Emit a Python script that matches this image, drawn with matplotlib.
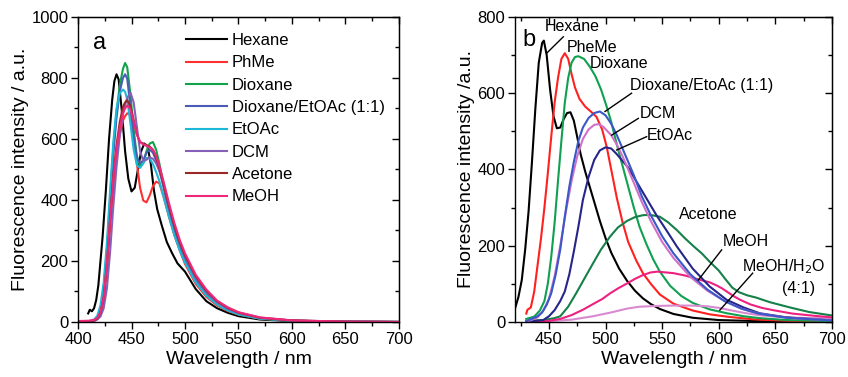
import numpy as np
import matplotlib
matplotlib.use("Agg")
import matplotlib.pyplot as plt
from matplotlib.ticker import MultipleLocator

plt.rcParams['font.family'] = ['Liberation Sans', 'DejaVu Sans']

# ---------------- panel a : data ----------------
hex_a_x = [409.5, 411, 413, 415, 417, 419, 421, 423, 426, 429, 432, 434, 436, 438, 441, 444, 447, 450,
           453, 456, 459, 462, 465, 468, 471, 474, 478, 483, 488, 493, 500, 510, 520, 530, 540, 550, 570, 600, 650, 700]
hex_a_y = [28, 40, 35, 45, 72, 120, 200, 280, 430, 600, 730, 790, 812, 795, 690, 560, 470, 428,
           440, 500, 560, 585, 575, 520, 430, 370, 320, 262, 225, 192, 165, 108, 68, 45, 30, 19, 8, 3, 1, 0]

grid_a = [400, 410, 415, 418, 421, 424, 427, 430, 433, 436, 439, 442, 444, 446, 449, 452, 455, 458, 461,
          464, 467, 470, 473, 476, 480, 485, 490, 495, 500, 510, 520, 530, 540, 550, 570, 600, 650, 700]
phme_a = [0, 1, 4, 9, 25, 70, 170, 310, 440, 545, 615, 660, 675, 684, 680, 620, 520, 440, 398,
          392, 415, 445, 460, 455, 410, 345, 285, 235, 190, 125, 82, 54, 36, 24, 11, 4, 1, 0]
diox_a = [0, 2, 6, 14, 40, 110, 240, 410, 570, 690, 775, 830, 849, 835, 745, 630, 545, 510, 522,
          560, 585, 590, 565, 520, 450, 370, 305, 250, 205, 135, 88, 58, 38, 25, 11, 4, 1, 0]
dxea_a = [0, 2, 5, 12, 36, 95, 220, 390, 550, 670, 755, 800, 812, 798, 705, 605, 538, 520, 530,
          555, 565, 555, 530, 500, 440, 365, 300, 248, 205, 138, 92, 60, 40, 27, 12, 4, 1, 0]
etoac_a = [0, 2, 8, 20, 55, 130, 260, 430, 590, 700, 750, 762, 755, 730, 650, 565, 515, 505, 520,
           538, 536, 518, 492, 462, 410, 345, 285, 235, 195, 130, 86, 57, 38, 25, 11, 4, 1, 0]
dcm_a = [0, 1, 3, 8, 18, 45, 110, 230, 380, 510, 610, 680, 712, 735, 752, 720, 640, 560, 528,
         532, 540, 535, 520, 495, 450, 380, 315, 260, 215, 145, 97, 64, 43, 29, 13, 5, 1, 0]
acet_a = [0, 2, 5, 11, 30, 80, 190, 340, 480, 580, 655, 705, 720, 727, 708, 662, 615, 590, 585,
          580, 575, 565, 540, 505, 450, 380, 315, 262, 218, 150, 102, 68, 46, 31, 14, 5, 1, 0]
meoh_a = [3, 4, 7, 13, 32, 80, 190, 335, 470, 565, 635, 685, 700, 710, 698, 657, 615, 590, 582,
          578, 572, 565, 545, 512, 460, 390, 325, 270, 225, 155, 106, 70, 48, 32, 15, 5, 1, 0]

labels_a = ['Hexane', 'PhMe', 'Dioxane', 'Dioxane/EtOAc (1:1)', 'EtOAc', 'DCM', 'Acetone', 'MeOH']
colors_a = ['#000000', '#ff3030', '#12a24a', '#4a5cb6', '#1cb8d8', '#8660b6', '#9a2828', '#f0287c']

# ---------------- panel b ----------------
hex_b_x = [420, 423, 426, 429, 432, 435, 438, 441, 444, 445.5, 448, 451, 454, 457, 460, 463, 466, 469,
           472, 475, 478, 482, 486, 490, 495, 500, 505, 512, 519, 526, 533, 540, 548, 560, 577, 600, 650, 700]
hex_b_y = [35, 65, 110, 190, 290, 420, 560, 680, 732, 738, 700, 610, 540, 508, 510, 532, 548, 550,
           528, 485, 440, 395, 355, 315, 265, 220, 182, 140, 108, 82, 62, 47, 34, 21, 11, 5, 1, 0]

phme_b_x = [430, 431, 434, 437, 440, 443, 446, 449, 452, 455, 458, 461, 464, 467, 470, 473, 477, 482,
            487, 492, 497, 501, 505, 510, 515, 520, 527, 533, 540, 548, 560, 577, 592, 607, 630, 660, 700]
phme_b_y = [22, 32, 38, 80, 150, 220, 300, 390, 485, 575, 640, 690, 705, 690, 650, 615, 585, 565,
            552, 538, 505, 460, 400, 325, 262, 210, 162, 128, 100, 72, 48, 30, 20, 14, 7, 3, 1]

diox_b_x = [430, 437, 442, 446, 449, 452, 455, 458, 461, 464, 467, 470, 473, 476, 481, 486, 491, 496,
            501, 505, 510, 515, 520, 525, 530, 536, 542, 548, 557, 567, 577, 592, 607, 622, 636, 660, 700]
diox_b_y = [8, 14, 30, 55, 100, 170, 260, 370, 475, 575, 640, 680, 695, 697, 690, 670, 645, 610,
            565, 525, 465, 410, 355, 300, 250, 205, 165, 132, 95, 68, 50, 33, 23, 15, 10, 5, 2]

dxea_b_x = [430, 440, 444, 448, 452, 456, 460, 464, 468, 472, 476, 480, 485, 490, 495, 500, 505, 510,
            515, 520, 525, 532, 540, 550, 560, 575, 590, 605, 620, 635, 660, 700]
dxea_b_y = [2, 15, 25, 45, 75, 125, 190, 276, 355, 420, 475, 510, 535, 548, 552, 542, 520, 490,
            455, 420, 385, 330, 280, 225, 180, 125, 85, 55, 35, 22, 11, 4]

dcm_b_x = [430, 440, 445, 450, 455, 460, 465, 470, 475, 480, 485, 490, 494, 498, 505, 510, 515, 520,
           525, 532, 540, 550, 560, 575, 590, 605, 620, 635, 660, 700]
dcm_b_y = [0, 12, 30, 60, 120, 200, 290, 370, 435, 480, 505, 517, 519, 512, 490, 465, 435, 400,
           365, 315, 265, 210, 168, 118, 82, 55, 35, 22, 11, 4]

etoac_b_x = [430, 445, 450, 455, 460, 464, 468, 472, 476, 480, 485, 490, 495, 500, 505, 510, 520, 530,
             537, 545, 555, 563, 577, 592, 607, 622, 636, 660, 700]
etoac_b_y = [0, 5, 15, 31, 55, 80, 125, 185, 250, 320, 380, 425, 450, 458, 455, 440, 405, 355,
             320, 280, 235, 198, 140, 93, 58, 38, 23, 12, 4]

acet_b_x = [430, 445, 455, 460, 467, 474, 481, 489, 496, 504, 511, 519, 526, 533, 539, 548, 555, 563,
            570, 578, 585, 592, 600, 606, 612, 618, 625, 633, 645, 663, 680, 700]
acet_b_y = [3, 5, 10, 15, 40, 75, 112, 154, 190, 224, 248, 265, 275, 280, 281, 276, 262, 241,
            220, 198, 180, 158, 135, 112, 90, 78, 70, 64, 52, 38, 26, 17]

meoh_b_x = [430, 450, 460, 470, 480, 489, 497, 504, 511, 519, 526, 533, 540, 546, 553, 560, 570, 577,
            584, 592, 598, 603, 607, 613, 619, 628, 638, 648, 665, 685, 700]
meoh_b_y = [0, 3, 8, 18, 32, 47, 60, 75, 88, 101, 113, 123, 130, 132, 130, 128, 122, 116,
            110, 104, 96, 88, 80, 68, 58, 46, 37, 31, 22, 16, 12]

mw_b_x = [430, 450, 470, 489, 505, 519, 530, 545, 560, 575, 590, 600, 610, 622, 635, 650, 670, 700]
mw_b_y = [0, 2, 6, 15, 25, 35, 40, 42, 43, 43, 41, 37, 31, 24, 18, 14, 11, 9]

colors_b = {'hex': '#000000', 'phme': '#ff2020', 'diox': '#10a050', 'dxea': '#3a58c8',
            'dcm': '#d070c8', 'etoac': '#25258a', 'acet': '#158048', 'meoh': '#ee2080', 'mw': '#d88ad0'}

# ---------------- figure ----------------
fig = plt.figure(figsize=(8.48, 3.77), dpi=100)
ax1 = fig.add_axes([0.092, 0.146, 0.3785, 0.809])
ax2 = fig.add_axes([0.6073, 0.146, 0.3737, 0.809])

lw = 1.5
series_a = [(hex_a_x, hex_a_y), (grid_a, phme_a), (grid_a, diox_a), (grid_a, dxea_a),
            (grid_a, etoac_a), (grid_a, dcm_a), (grid_a, acet_a), (grid_a, meoh_a)]
for (x, y), lab, c in zip(series_a, labels_a, colors_a):
    ax1.plot(x, y, color=c, lw=lw, label=lab)

ax1.set_xlim(400, 700)
ax1.set_ylim(0, 1000)
ax1.text(414, 915, 'a', fontsize=17, va='center')
leg = ax1.legend(loc='upper left', bbox_to_anchor=(0.315, 0.969), frameon=False, fontsize=12,
                 handlelength=2.5, handletextpad=0.28, labelspacing=0.44, borderaxespad=0)

ax2.plot(hex_b_x, hex_b_y, color=colors_b['hex'], lw=lw)
ax2.plot(phme_b_x, phme_b_y, color=colors_b['phme'], lw=lw)
ax2.plot(diox_b_x, diox_b_y, color=colors_b['diox'], lw=lw)
ax2.plot(acet_b_x, acet_b_y, color=colors_b['acet'], lw=lw)
ax2.plot(mw_b_x, mw_b_y, color=colors_b['mw'], lw=lw)
ax2.plot(meoh_b_x, meoh_b_y, color=colors_b['meoh'], lw=lw)
ax2.plot(etoac_b_x, etoac_b_y, color=colors_b['etoac'], lw=lw)
ax2.plot(dcm_b_x, dcm_b_y, color=colors_b['dcm'], lw=lw)
ax2.plot(dxea_b_x, dxea_b_y, color=colors_b['dxea'], lw=lw)

ax2.set_xlim(420, 700)
ax2.set_ylim(0, 800)
ax2.text(427, 740, 'b', fontsize=17, va='center')

fs = 11.5
ax2.text(446.5, 774, 'Hexane', fontsize=fs, va='center')
ax2.text(466, 721, 'PheMe', fontsize=fs, va='center')
ax2.text(486.3, 679, 'Dioxane', fontsize=fs, va='center')
ax2.text(521.6, 619, 'Dioxane/EtoAc (1:1)', fontsize=fs, va='center')
ax2.text(530.4, 548, 'DCM', fontsize=fs, va='center')
ax2.text(536.6, 490, 'EtOAc', fontsize=fs, va='center')
ax2.text(565, 281, 'Acetone', fontsize=fs, va='center')
ax2.text(603.7, 210, 'MeOH', fontsize=fs, va='center')
ax2.text(620.5, 144, 'MeOH/H$_2$O', fontsize=fs, va='center')
ax2.text(655.9, 89, '(4:1)', fontsize=fs, va='center')

# leader lines
leaders = [((448, 705), (462.7, 748)), ((499.5, 552), (523, 600)), ((505.4, 490), (529, 534)),
           ((509.8, 451), (536.3, 486)), ((582, 110), (602.6, 189)), ((601, 31), (630, 128))]
for p0, p1 in leaders:
    ax2.plot([p0[0], p1[0]], [p0[1], p1[1]], color='k', lw=1.0)

for ax in (ax1, ax2):
    ax.xaxis.set_major_locator(MultipleLocator(50))
    ax.xaxis.set_minor_locator(MultipleLocator(25))
    ax.yaxis.set_major_locator(MultipleLocator(200))
    ax.yaxis.set_minor_locator(MultipleLocator(100))
    ax.tick_params(which='both', direction='out', top=False, right=False, labelsize=12, width=1.0)
    ax.tick_params(which='major', length=5, pad=2)
    ax.tick_params(which='minor', length=3)
    sec = ax.secondary_xaxis('top')
    sec.xaxis.set_major_locator(MultipleLocator(50))
    sec.xaxis.set_minor_locator(MultipleLocator(25))
    sec.tick_params(which='both', direction='in', labeltop=False, width=1.0)
    sec.tick_params(which='major', length=5)
    sec.tick_params(which='minor', length=3)
    secy = ax.secondary_yaxis('right')
    secy.yaxis.set_major_locator(MultipleLocator(200))
    secy.yaxis.set_minor_locator(MultipleLocator(100))
    secy.tick_params(which='both', direction='in', labelright=False, width=1.0)
    secy.tick_params(which='major', length=5)
    secy.tick_params(which='minor', length=3)
    for s in ax.spines.values():
        s.set_linewidth(1.0)
    ax.set_xlabel('Wavelength / nm', fontsize=14, labelpad=3)

ax1.set_ylabel('Fluorescence intensity / a.u.', fontsize=14, labelpad=2)
ax2.set_ylabel('Fluorescence intensity /a.u.', fontsize=14, labelpad=2)

fig.savefig('out.png', dpi=100)
